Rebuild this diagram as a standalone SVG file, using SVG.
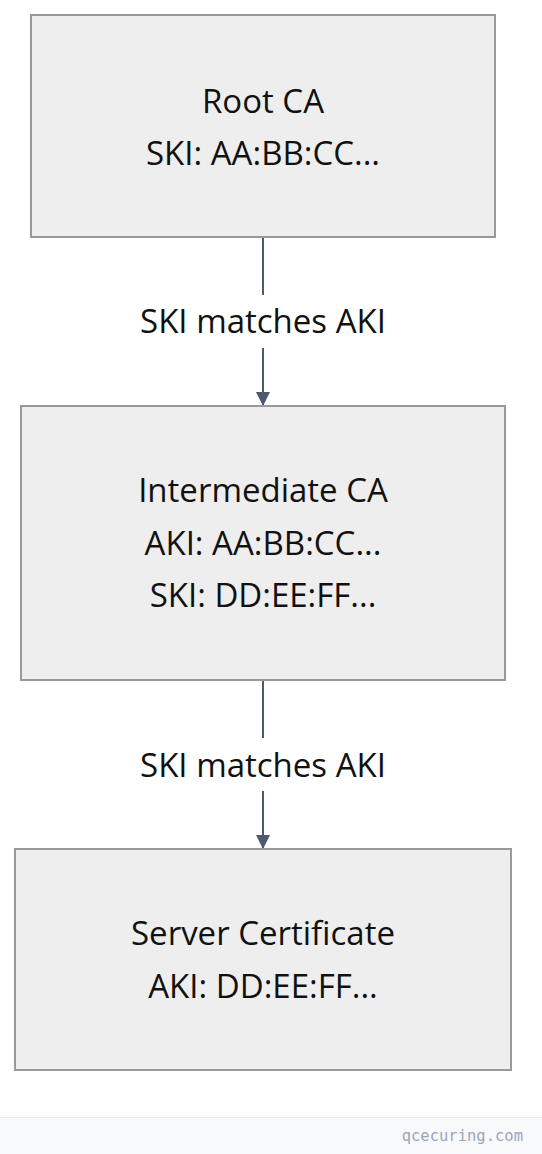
<svg xmlns="http://www.w3.org/2000/svg" width="542" height="1154" viewBox="0 0 542 1154">
<style>
.box{fill:#eeeeee;stroke:#999999;stroke-width:2}
.t{font-family:"Open Sans","Noto Sans",sans-serif;font-size:33px;fill:#111111;text-anchor:middle}
.edge{stroke:#4a5a70;stroke-width:2;fill:none}
.ft{font-family:"DejaVu Sans Mono","Liberation Mono",monospace;font-size:15.5px;fill:#9aa6bb;text-anchor:end}
</style>
<defs>
<marker id="ah" viewBox="0 0 14 14" refX="14" refY="7" markerWidth="14" markerHeight="14" markerUnits="userSpaceOnUse" orient="auto">
<path d="M0,0 L14,7 L0,14 Z" fill="#4a5a70"/>
</marker>
</defs>
<rect x="0" y="0" width="542" height="1154" fill="#ffffff"/>
<g id="connectors">
<line class="edge" x1="263" y1="237" x2="263" y2="295"/>
<line class="edge" x1="263" y1="348" x2="263" y2="406" marker-end="url(#ah)"/>
<text class="t" x="263" y="333">SKI matches AKI</text>
<line class="edge" x1="263" y1="680" x2="263" y2="738"/>
<line class="edge" x1="263" y1="791" x2="263" y2="849" marker-end="url(#ah)"/>
<text class="t" x="263" y="777">SKI matches AKI</text>
</g>
<g id="root-ca">
<rect class="box" x="31" y="15" width="464" height="222"/>
<text class="t" x="263" y="113">Root CA</text>
<text class="t" x="263" y="165">SKI: AA:BB:CC...</text>
</g>
<g id="intermediate-ca">
<rect class="box" x="21" y="406" width="484" height="274"/>
<text class="t" x="263" y="502">Intermediate CA</text>
<text class="t" x="263" y="555">AKI: AA:BB:CC...</text>
<text class="t" x="263" y="607">SKI: DD:EE:FF...</text>
</g>
<g id="server-certificate">
<rect class="box" x="15" y="849" width="496" height="221"/>
<text class="t" x="263" y="945">Server Certificate</text>
<text class="t" x="263" y="998">AKI: DD:EE:FF...</text>
</g>
<g id="footer">
<rect x="0" y="1117" width="542" height="37" fill="#f8f9fb"/>
<line x1="0" y1="1117.5" x2="542" y2="1117.5" stroke="#e8ebef" stroke-width="1"/>
<text class="ft" x="523" y="1141">qcecuring.com</text>
</g>
</svg>
